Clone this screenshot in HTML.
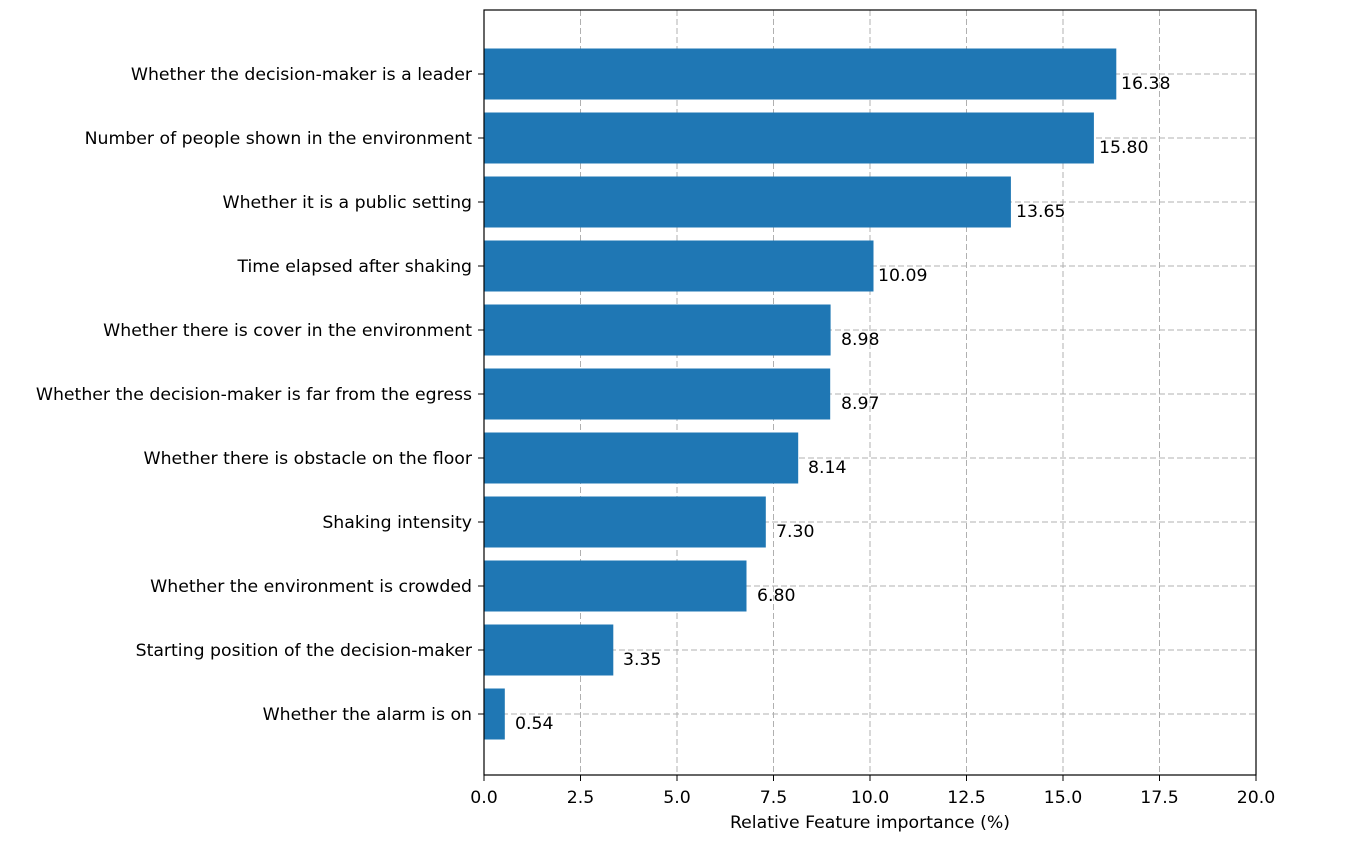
<!DOCTYPE html>
<html><head><meta charset="utf-8"><style>body{margin:0;background:#fff}</style></head><body>
<svg width="1347" height="843" xmlns="http://www.w3.org/2000/svg" font-family="'DejaVu Sans',sans-serif" font-size="17.3">
<rect width="1347" height="843" fill="#fff"/>
<g stroke="#b0b0b0" stroke-dasharray="6,3" stroke-width="1">
<line x1="580.5" y1="10" x2="580.5" y2="775"/><line x1="677" y1="10" x2="677" y2="775"/><line x1="773.5" y1="10" x2="773.5" y2="775"/><line x1="870" y1="10" x2="870" y2="775"/><line x1="966.5" y1="10" x2="966.5" y2="775"/><line x1="1063" y1="10" x2="1063" y2="775"/><line x1="1159.5" y1="10" x2="1159.5" y2="775"/>
<line x1="484" y1="74" x2="1256" y2="74"/><line x1="484" y1="138" x2="1256" y2="138"/><line x1="484" y1="202" x2="1256" y2="202"/><line x1="484" y1="266" x2="1256" y2="266"/><line x1="484" y1="330" x2="1256" y2="330"/><line x1="484" y1="394" x2="1256" y2="394"/><line x1="484" y1="458" x2="1256" y2="458"/><line x1="484" y1="522" x2="1256" y2="522"/><line x1="484" y1="586" x2="1256" y2="586"/><line x1="484" y1="650" x2="1256" y2="650"/><line x1="484" y1="714" x2="1256" y2="714"/>
</g>
<g fill="#1f77b4">
<rect x="484" y="48.5" width="632.3" height="51"/>
<rect x="484" y="112.5" width="609.9" height="51"/>
<rect x="484" y="176.5" width="526.9" height="51"/>
<rect x="484" y="240.5" width="389.5" height="51"/>
<rect x="484" y="304.5" width="346.6" height="51"/>
<rect x="484" y="368.5" width="346.2" height="51"/>
<rect x="484" y="432.5" width="314.2" height="51"/>
<rect x="484" y="496.5" width="281.8" height="51"/>
<rect x="484" y="560.5" width="262.5" height="51"/>
<rect x="484" y="624.5" width="129.3" height="51"/>
<rect x="484" y="688.5" width="20.8" height="51"/>
</g>
<g fill="#000">
<text x="1121" y="89">16.38</text><text x="1099" y="153">15.80</text><text x="1016" y="217">13.65</text><text x="878" y="281">10.09</text><text x="841" y="345">8.98</text><text x="841" y="409">8.97</text><text x="808" y="473">8.14</text><text x="776" y="537">7.30</text><text x="757" y="601">6.80</text><text x="623" y="665">3.35</text><text x="515" y="729">0.54</text>
</g>
<g fill="#000" text-anchor="end">
<text x="472" y="80">Whether the decision-maker is a leader</text>
<text x="472" y="144">Number of people shown in the environment</text>
<text x="472" y="208">Whether it is a public setting</text>
<text x="472" y="272">Time elapsed after shaking</text>
<text x="472" y="336">Whether there is cover in the environment</text>
<text x="472" y="400">Whether the decision-maker is far from the egress</text>
<text x="472" y="464">Whether there is obstacle on the floor</text>
<text x="472" y="528">Shaking intensity</text>
<text x="472" y="592">Whether the environment is crowded</text>
<text x="472" y="656">Starting position of the decision-maker</text>
<text x="472" y="720">Whether the alarm is on</text>
</g>
<g stroke="#000" stroke-width="1">
<line x1="478" y1="74" x2="484" y2="74"/><line x1="478" y1="138" x2="484" y2="138"/><line x1="478" y1="202" x2="484" y2="202"/><line x1="478" y1="266" x2="484" y2="266"/><line x1="478" y1="330" x2="484" y2="330"/><line x1="478" y1="394" x2="484" y2="394"/><line x1="478" y1="458" x2="484" y2="458"/><line x1="478" y1="522" x2="484" y2="522"/><line x1="478" y1="586" x2="484" y2="586"/><line x1="478" y1="650" x2="484" y2="650"/><line x1="478" y1="714" x2="484" y2="714"/>
<line x1="484" y1="775" x2="484" y2="781"/><line x1="580.5" y1="775" x2="580.5" y2="781"/><line x1="677" y1="775" x2="677" y2="781"/><line x1="773.5" y1="775" x2="773.5" y2="781"/><line x1="870" y1="775" x2="870" y2="781"/><line x1="966.5" y1="775" x2="966.5" y2="781"/><line x1="1063" y1="775" x2="1063" y2="781"/><line x1="1159.5" y1="775" x2="1159.5" y2="781"/><line x1="1256" y1="775" x2="1256" y2="781"/>
</g>
<rect x="484" y="10" width="772" height="765" fill="none" stroke="#000" stroke-width="1.2"/>
<g fill="#000" text-anchor="middle">
<text x="484" y="803">0.0</text><text x="580.5" y="803">2.5</text><text x="677" y="803">5.0</text><text x="773.5" y="803">7.5</text><text x="870" y="803">10.0</text><text x="966.5" y="803">12.5</text><text x="1063" y="803">15.0</text><text x="1159.5" y="803">17.5</text><text x="1256" y="803">20.0</text>
<text x="870" y="828">Relative Feature importance (%)</text>
</g>
</svg>
</body></html>
